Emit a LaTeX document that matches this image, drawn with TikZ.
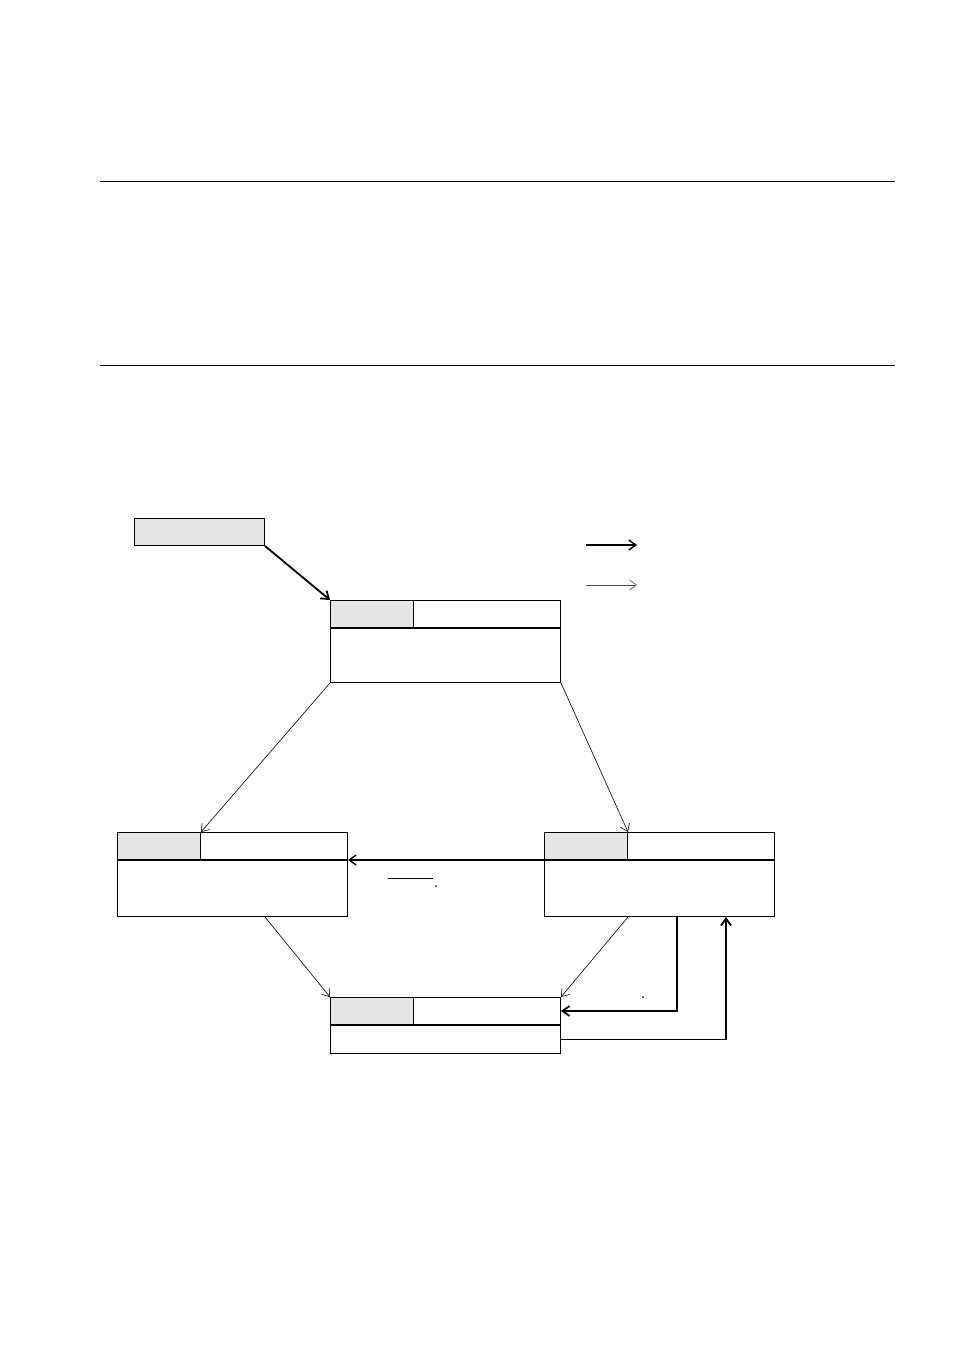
\documentclass[tikz,border=0pt]{standalone}
\usetikzlibrary{positioning,arrows.meta}
\begin{document}
\begin{tikzpicture}[x=.5pt, y=-.5pt, line width=.5pt,
  hdr/.style={draw, rectangle, inner sep=0, minimum width=115pt, minimum height=13.5pt, anchor=north west},
  tag/.style={draw, rectangle, fill=black!10, inner sep=0, minimum width=41.5pt, minimum height=13.5pt, anchor=north west},
  body/.style={draw, rectangle, inner sep=0, minimum width=115pt},
  thin arr/.style={-{Straight Barb[length=3.5pt,width=5pt]}, line width=.3pt},
  bold arr/.style={-{Straight Barb[length=3.5pt,width=5pt]}, line width=.9pt}]
\useasboundingbox (0,0) rectangle (954,1351);

\draw (100,181) -- (895,181);
\draw (100,365) -- (895,365);

% start
\node[draw, fill=black!10, inner sep=0, minimum width=65pt, minimum height=13.5pt, anchor=north west] (start) at (134,518) {};

% legend
\coordinate (lg1) at (586,545); \coordinate (lg1e) at (637,545);
\coordinate (lg2) at (586,585); \coordinate (lg2e) at (637,585);
\draw[bold arr, line width=.7pt] (lg1) -- (lg1e);
\draw[thin arr, black!70] (lg2) -- (lg2e);

% states
\node[hdr] (upper-top) at (330,600) {};
\node[tag] (upper-tag) at (upper-top.north west) {};
\node[body, minimum height=27pt, below=0pt of upper-top] (upper) {};

\node[hdr] (left-top) at (117,832) {};
\node[tag] (left-tag) at (left-top.north west) {};
\node[body, minimum height=28pt, below=0pt of left-top] (left) {};

\node[hdr] (right-top) at (544,832) {};
\node[tag] (right-tag) at (right-top.north west) {};
\node[body, minimum height=28pt, below=0pt of right-top] (right) {};

\node[hdr] (lower-top) at (330,997) {};
\node[tag] (lower-tag) at (lower-top.north west) {};
\node[body, minimum height=14pt, below=0pt of lower-top] (lower) {};

% transitions
\draw[bold arr] (start.south east) -- (upper-top.north west);
\draw[thin arr] (upper.south west) -- (left-tag.north east);
\draw[thin arr] (upper.south east) -- (right-tag.north east);
\draw[bold arr, line width=.7pt] (right-tag.south west) -- (right-tag.south west -| left.east);
\draw[thin arr] ([xshift=-41.5pt]left.south east) -- (lower-top.north west);
\draw[thin arr] (right-tag.east |- right.south) -- (lower-top.north east);
\draw[bold arr] ([xshift=-49pt]right.south east) |- (lower-top.east);
\draw[bold arr] (lower.east) -| ([xshift=-24.5pt]right.south east);

\draw (388,878) -- (433,878);
\fill (436,886) circle (1);
\fill (643,997) circle (1);
\end{tikzpicture}
\end{document}
